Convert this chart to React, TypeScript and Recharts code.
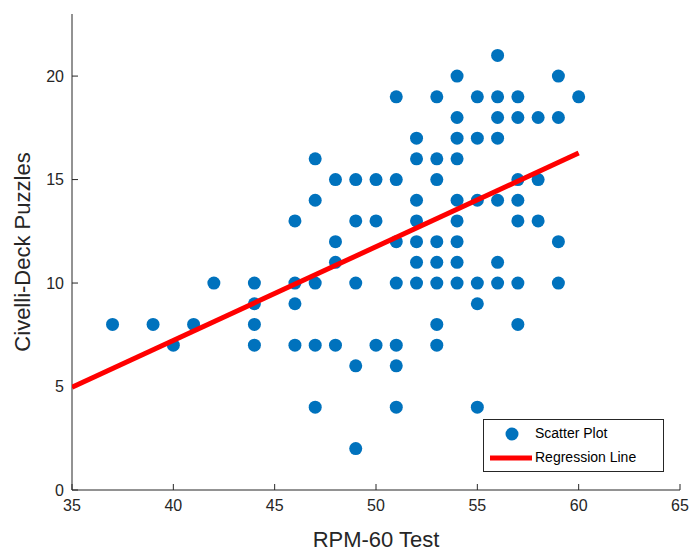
import { ScatterChart, Scatter, XAxis, YAxis } from 'recharts';

// integer scores (y value -> x values)
const rows: [number, number[]][] = [
	[21, [56]],
	[20, [54, 59]],
	[19, [51, 53, 55, 56, 57, 60]],
	[18, [54, 56, 57, 58, 59]],
	[17, [52, 54, 55, 56]],
	[16, [47, 52, 53, 54]],
	[15, [48, 49, 50, 51, 53, 57, 58]],
	[14, [47, 52, 54, 55, 56, 57]],
	[13, [46, 49, 50, 52, 54, 57, 58]],
	[12, [48, 51, 52, 53, 54, 59]],
	[11, [48, 52, 53, 54, 56]],
	[10, [42, 44, 46, 47, 49, 51, 52, 53, 54, 55, 56, 57, 59]],
	[9, [44, 46, 55]],
	[8, [37, 39, 41, 44, 53, 57]],
	[7, [40, 44, 46, 47, 48, 50, 51, 53]],
	[6, [49, 51]],
	[4, [47, 51, 55]],
	[2, [49]],
];

const points = rows.flatMap(([y, xs]) => xs.map((x) => ({ x, y })));

const regression = [
	{ x: 35, y: 4.97 },
	{ x: 60, y: 16.28 },
];

const xTicks = [35, 40, 45, 50, 55, 60, 65];
const yTicks = [0, 5, 10, 15, 20];
const legendItems = ['Scatter Plot', 'Regression Line'];

const axisColor = '#262626';
const font = '"Liberation Sans", Arial, sans-serif';

// drawn over the chart, lower right corner of the axes
const LegendBox = () => (
	<div
		style={{
			position: 'absolute',
			left: 483,
			top: 419,
			width: 181,
			height: 53,
			border: '1px solid #262626',
			background: '#fff',
			fontFamily: font,
			fontSize: 14,
			color: '#000',
			boxSizing: 'border-box',
		}}
	>
		<svg width={50} height={51} style={{ position: 'absolute', left: 0, top: 0 }}>
			<circle cx={28} cy={14} r={6.5} fill='#0072BD' />
			<line x1={6} y1={38} x2={48} y2={38} stroke='#FF0000' strokeWidth={5} />
		</svg>
		<div style={{ position: 'absolute', left: 51, top: 5 }}>{legendItems[0]}</div>
		<div style={{ position: 'absolute', left: 51, top: 29 }}>{legendItems[1]}</div>
	</div>
);

export default function App() {
	return (
		<div style={{ position: 'absolute', left: 0, top: 0, background: '#fff' }}>
			<ScatterChart width={691} height={552} margin={{ top: 14, right: 11, bottom: 0, left: 0 }}>
				<XAxis
					type='number'
					dataKey='x'
					domain={[35, 65]}
					ticks={xTicks}
					allowDataOverflow
					height={62}
					stroke={axisColor}
					tickSize={-6}
					tickMargin={16}
					tick={{ fill: axisColor, fontSize: 16, fontFamily: font }}
					label={{
						value: 'RPM-60 Test',
						position: 'insideBottom',
						offset: 5,
						fill: axisColor,
						fontSize: 22,
						fontFamily: font,
					}}
				/>
				<YAxis
					type='number'
					dataKey='y'
					domain={[0, 23]}
					ticks={yTicks}
					allowDataOverflow
					width={72}
					stroke={axisColor}
					tickSize={-6}
					tickMargin={14}
					tick={{ fill: axisColor, fontSize: 16, fontFamily: font }}
					label={{
						value: 'Civelli-Deck Puzzles',
						angle: -90,
						position: 'insideLeft',
						offset: 22,
						style: { textAnchor: 'middle' },
						fill: axisColor,
						fontSize: 22,
						fontFamily: font,
					}}
				/>
				<Scatter
					name='Scatter Plot'
					data={points}
					isAnimationActive={false}
					shape={(p: any) => <circle cx={p.cx} cy={p.cy} r={6.5} fill='#0072BD' />}
				/>
				<Scatter
					name='Regression Line'
					data={regression}
					isAnimationActive={false}
					line={{ stroke: '#FF0000', strokeWidth: 5 }}
					shape={() => <g />}
				/>
			</ScatterChart>
			<LegendBox />
		</div>
	);
}
